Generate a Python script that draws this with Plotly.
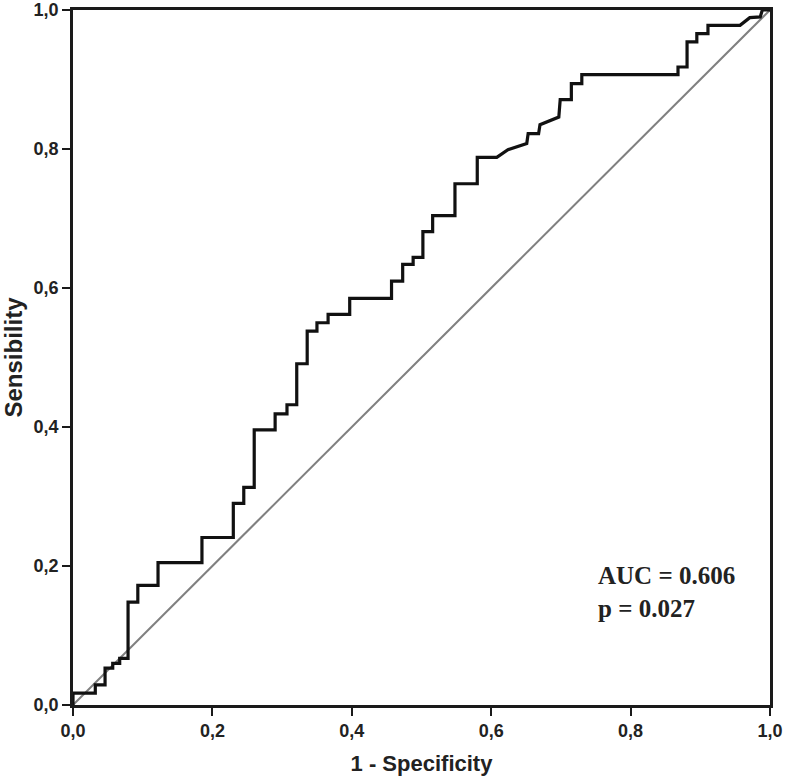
import plotly.graph_objects as go

# ROC curve vertices (1 - specificity, sensitivity)
fpr = [0.000, 0.000, 0.032, 0.032, 0.046, 0.046, 0.057, 0.057, 0.067, 0.067,
       0.079, 0.079, 0.093, 0.093, 0.122, 0.122, 0.185, 0.185, 0.230, 0.230,
       0.245, 0.245, 0.260, 0.260, 0.290, 0.290, 0.307, 0.307, 0.321, 0.321,
       0.336, 0.336, 0.350, 0.350, 0.366, 0.366, 0.397, 0.397, 0.457, 0.457,
       0.473, 0.473, 0.488, 0.488, 0.502, 0.502, 0.516, 0.516, 0.548, 0.548,
       0.580, 0.580, 0.608, 0.624, 0.651, 0.653, 0.668, 0.670, 0.697, 0.699,
       0.715, 0.715, 0.730, 0.730, 0.868, 0.868, 0.881, 0.881, 0.895, 0.895,
       0.911, 0.911, 0.957, 0.971, 0.986, 0.989, 1.000]
tpr = [0.000, 0.017, 0.017, 0.029, 0.029, 0.053, 0.053, 0.060, 0.060, 0.067,
       0.067, 0.148, 0.148, 0.172, 0.172, 0.205, 0.205, 0.241, 0.241, 0.290,
       0.290, 0.313, 0.313, 0.396, 0.396, 0.419, 0.419, 0.432, 0.432, 0.491,
       0.491, 0.538, 0.538, 0.550, 0.550, 0.562, 0.562, 0.585, 0.585, 0.610,
       0.610, 0.634, 0.634, 0.644, 0.644, 0.681, 0.681, 0.704, 0.704, 0.750,
       0.750, 0.788, 0.788, 0.799, 0.808, 0.822, 0.822, 0.835, 0.846, 0.871,
       0.871, 0.894, 0.894, 0.907, 0.907, 0.918, 0.918, 0.954, 0.954, 0.966,
       0.966, 0.978, 0.978, 0.989, 0.990, 1.000, 1.000]

ref_x = [0.0, 1.0]
ref_y = [0.0, 1.0]

tick_vals = [0.0, 0.2, 0.4, 0.6, 0.8, 1.0]
tick_text = ["0,0", "0,2", "0,4", "0,6", "0,8", "1,0"]

auc_text = "AUC = 0.606<br>p = 0.027"

fig = go.Figure()
fig.add_trace(go.Scatter(x=ref_x, y=ref_y, mode="lines",
                         line=dict(color="#808080", width=2), showlegend=False))
fig.add_trace(go.Scatter(x=fpr, y=tpr, mode="lines",
                         line=dict(color="#111111", width=3.2), showlegend=False))

sans = "Liberation Sans, Arial"
tickfont = dict(family=sans, size=18, color="#222222", weight="bold")
axis_common = dict(range=[0, 1], tickvals=tick_vals, ticktext=tick_text,
                   showgrid=False, zeroline=False, showline=True, mirror=True,
                   linecolor="#1a1a1a", linewidth=2.5, ticks="outside",
                   ticklen=8, tickwidth=2, tickcolor="#1a1a1a", tickfont=tickfont,
                   automargin=False, ticklabeloverflow="allow")

fig.update_layout(
    width=786, height=779,
    margin=dict(l=73, r=16, t=10, b=74),
    plot_bgcolor="white", paper_bgcolor="white",
    xaxis=dict(**axis_common,
               title=dict(text="1 - Specificity", standoff=16,
                          font=dict(family=sans, size=22, color="#222222", weight="bold"))),
    yaxis=dict(**axis_common,
               title=dict(text="Sensibility", standoff=6,
                          font=dict(family=sans, size=24, color="#222222", weight="bold"))),
    annotations=[dict(x=0.750, y=0.163, xref="x", yref="y", text=auc_text,
                      showarrow=False, xanchor="left", yanchor="middle", align="left",
                      font=dict(family="Liberation Serif, Times New Roman", size=25,
                                color="#222222", weight="bold"))],
)

fig.write_html("out.html", config={"displayModeBar": False},
               post_script="document.body.style.margin='0';")
